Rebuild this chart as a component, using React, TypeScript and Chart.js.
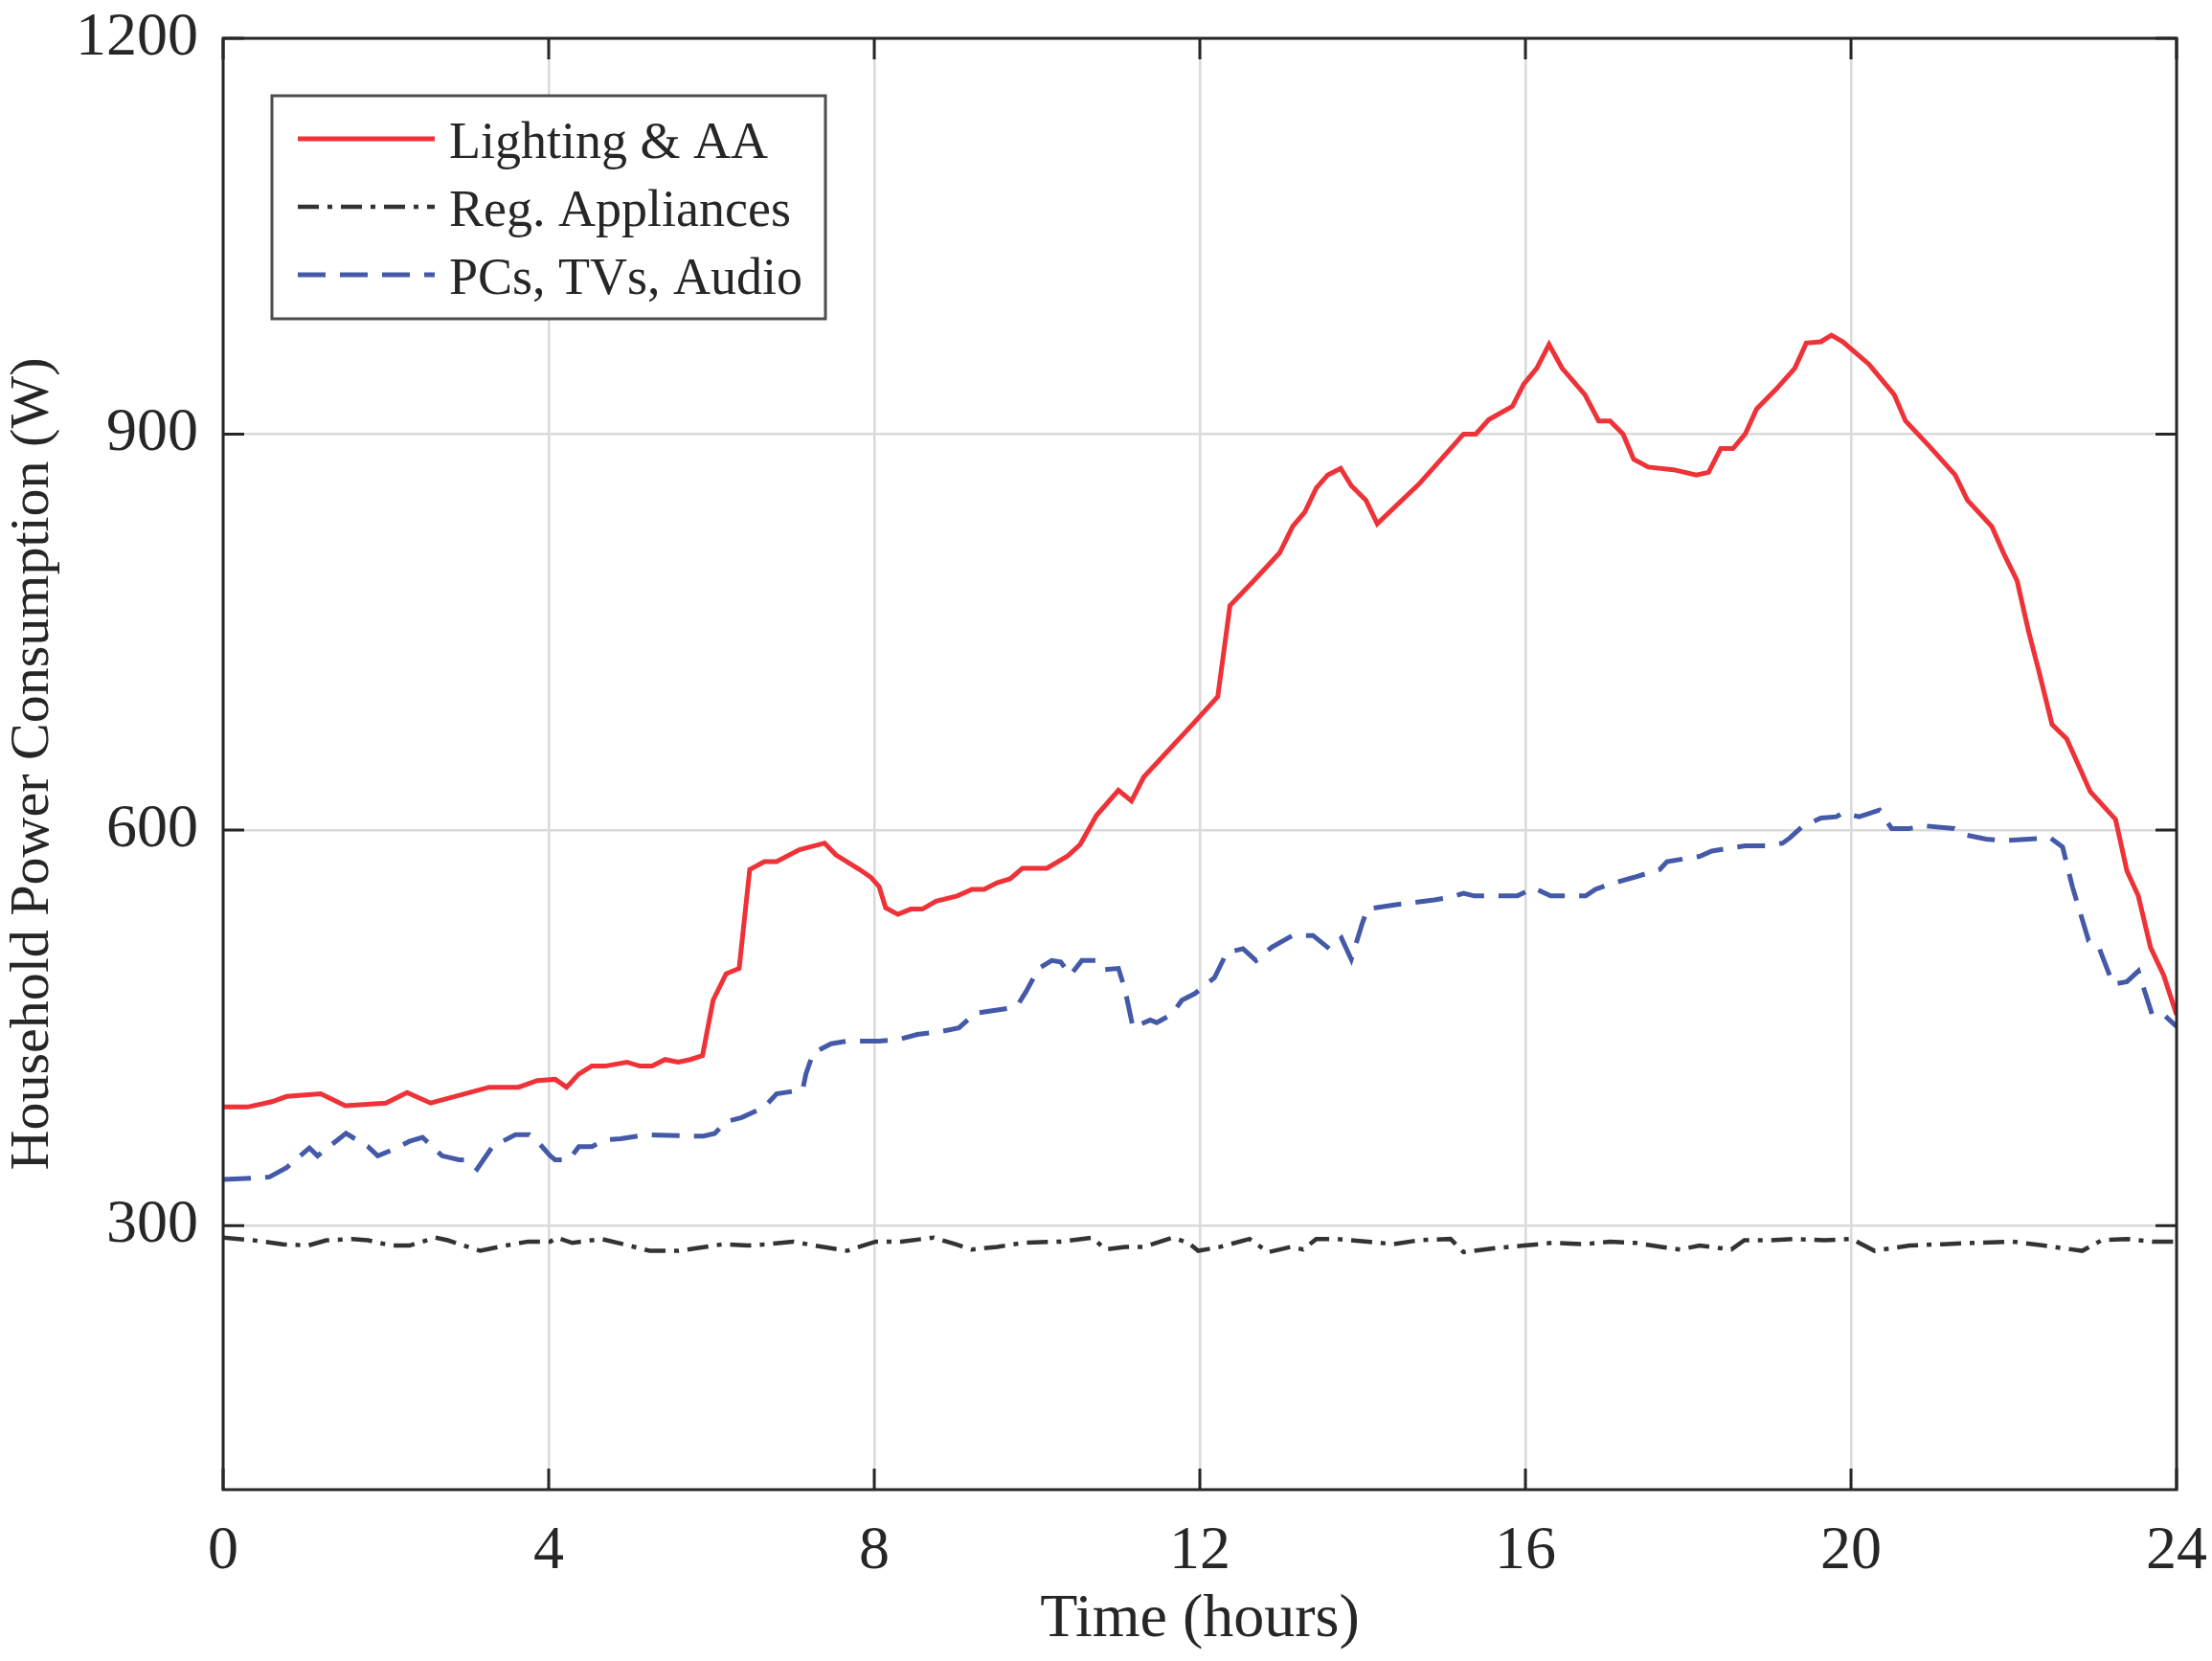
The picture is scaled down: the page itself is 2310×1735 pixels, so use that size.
import React, { useEffect, useRef } from "react"
import { Chart, registerables } from "chart.js"

Chart.register(...registerables)

// hours / watts
const lightingHours = [0, 0.3, 0.6, 0.78, 1.2, 1.5, 2.0, 2.26, 2.55, 3.27, 3.63, 3.86, 4.08, 4.22, 4.37, 4.53, 4.69, 4.96, 5.12, 5.27, 5.43, 5.59, 5.74, 5.89, 6.02, 6.18, 6.34, 6.47, 6.65, 6.8, 7.08, 7.39, 7.53, 7.82, 7.96, 8.06, 8.14, 8.29, 8.45, 8.59, 8.76, 9.02, 9.2, 9.35, 9.51, 9.67, 9.82, 10.12, 10.37, 10.53, 10.73, 11.0, 11.16, 11.31, 11.94, 12.22, 12.37, 12.65, 12.98, 13.14, 13.29, 13.43, 13.57, 13.73, 13.86, 14.04, 14.18, 14.69, 15.24, 15.39, 15.55, 15.84, 15.98, 16.14, 16.29, 16.45, 16.73, 16.9, 17.04, 17.2, 17.33, 17.51, 17.82, 18.1, 18.25, 18.4, 18.55, 18.7, 18.84, 19.08, 19.31, 19.45, 19.63, 19.76, 19.9, 20.22, 20.53, 20.67, 20.96, 21.28, 21.43, 21.73, 21.88, 22.04, 22.18, 22.31, 22.47, 22.65, 22.94, 23.25, 23.39, 23.53, 23.68, 23.84, 24.0]
const lightingWatts = [390, 390, 394, 398, 400, 391, 393, 401, 393, 405, 405, 410, 411, 405, 415, 421, 421, 424, 421, 421, 426, 424, 426, 429, 471, 491, 495, 570, 576, 576, 585, 590, 581, 570, 564, 557, 541, 536, 540, 540, 546, 550, 555, 555, 560, 563, 571, 571, 580, 589, 611, 630, 622, 640, 682, 701, 770, 788, 810, 830, 841, 859, 869, 874, 861, 850, 832, 862, 900, 900, 911, 921, 938, 950, 968, 950, 930, 910, 910, 900, 881, 875, 873, 869, 871, 889, 889, 900, 919, 934, 950, 969, 970, 975, 970, 953, 930, 910, 891, 869, 850, 830, 809, 789, 751, 720, 680, 669, 629, 608, 569, 550, 511, 490, 460]

const regHours = [0, 0.37, 0.73, 1.04, 1.27, 1.59, 1.78, 2.06, 2.29, 2.61, 2.76, 3.16, 3.47, 3.75, 4.02, 4.1, 4.29, 4.65, 4.92, 5.24, 5.59, 5.82, 6.14, 6.45, 6.69, 7.0, 7.27, 7.67, 7.86, 8.02, 8.33, 8.73, 9.0, 9.2, 9.51, 9.82, 10.29, 10.68, 10.84, 11.08, 11.31, 11.67, 11.86, 11.98, 12.25, 12.61, 12.84, 13.12, 13.27, 13.43, 13.67, 14.06, 14.37, 14.69, 15.08, 15.24, 15.63, 15.98, 16.33, 16.73, 17.04, 17.35, 17.67, 17.9, 18.14, 18.53, 18.69, 19.0, 19.31, 19.67, 20.02, 20.1, 20.29, 20.72, 21.12, 21.51, 21.98, 22.37, 22.84, 23.08, 23.39, 23.7, 23.98]
const regWatts = [291, 289, 286, 285, 289, 290, 289, 285, 285, 291, 289, 281, 285, 288, 288, 291, 287, 290, 286, 281, 281, 283, 286, 285, 286, 288, 285, 281, 285, 288, 288, 291, 286, 282, 284, 287, 288, 291, 282, 284, 284, 291, 287, 281, 284, 290, 280, 284, 282, 290, 290, 288, 286, 289, 290, 280, 283, 285, 287, 286, 288, 287, 284, 282, 285, 282, 289, 289, 290, 289, 290, 287, 281, 285, 286, 287, 288, 285, 281, 289, 290, 288, 288]

const pcHours = [0, 0.33, 0.57, 0.78, 1.06, 1.16, 1.51, 1.78, 1.9, 2.06, 2.29, 2.45, 2.69, 2.9, 3.0, 3.12, 3.31, 3.59, 3.76, 3.86, 4.02, 4.08, 4.25, 4.37, 4.53, 4.69, 4.88, 5.2, 5.71, 5.9, 6.04, 6.18, 6.37, 6.65, 6.8, 7.12, 7.16, 7.25, 7.47, 7.67, 8.06, 8.29, 8.53, 8.8, 9.04, 9.24, 9.67, 9.76, 9.86, 10.02, 10.18, 10.29, 10.41, 10.55, 10.73, 10.82, 11.0, 11.08, 11.18, 11.39, 11.47, 11.65, 11.78, 11.94, 12.18, 12.33, 12.53, 12.69, 12.88, 13.14, 13.39, 13.59, 13.74, 13.86, 14.0, 14.06, 14.37, 14.88, 15.08, 15.24, 15.37, 15.9, 16.1, 16.31, 16.74, 16.86, 17.04, 17.33, 17.65, 17.74, 18.14, 18.29, 18.49, 18.7, 18.96, 19.16, 19.25, 19.39, 19.63, 19.82, 19.9, 20.1, 20.35, 20.5, 20.71, 20.92, 21.27, 21.43, 21.66, 21.9, 22.45, 22.6, 22.72, 22.92, 23.04, 23.22, 23.39, 23.53, 23.7, 23.86, 24.0]
const pcWatts = [335, 336, 337, 344, 359, 353, 370, 360, 353, 357, 364, 367, 353, 350, 350, 343, 360, 369, 369, 364, 353, 350, 350, 360, 360, 365, 366, 369, 368, 368, 370, 379, 382, 390, 400, 403, 415, 431, 438, 440, 440, 441, 445, 447, 450, 461, 465, 467, 477, 495, 501, 500, 490, 501, 501, 494, 495, 479, 450, 456, 454, 460, 471, 476, 488, 507, 510, 501, 511, 520, 520, 510, 518, 502, 530, 540, 543, 547, 549, 552, 550, 550, 556, 550, 550, 555, 559, 564, 570, 576, 580, 584, 586, 588, 588, 590, 594, 602, 609, 610, 613, 610, 615, 601, 601, 603, 601, 596, 593, 592, 594, 587, 557, 516, 512, 483, 485, 493, 460, 459, 451]

const xTicks = [0, 4, 8, 12, 16, 20, 24]
const yTicks = [300, 600, 900, 1200]

const FONT = "'Liberation Serif', 'Times New Roman', serif"
const INK = "#262626"

const toPoints = (hours: number[], watts: number[]) => hours.map((h, i) => ({ x: h, y: watts[i] }))

// box round the axes with inward ticks, matlab style
const framePlugin = {
  id: "frame",
  afterDatasetsDraw(chart: any) {
    const { ctx, chartArea, scales } = chart
    const { left, right, top, bottom } = chartArea
    const len = 22
    ctx.save()
    ctx.strokeStyle = INK
    ctx.lineWidth = 3
    ctx.strokeRect(left, top, right - left, bottom - top)
    ctx.beginPath()
    xTicks.forEach(v => {
      const px = scales.x.getPixelForValue(v)
      ctx.moveTo(px, bottom); ctx.lineTo(px, bottom - len)
      ctx.moveTo(px, top); ctx.lineTo(px, top + len)
    })
    yTicks.forEach(v => {
      const py = scales.y.getPixelForValue(v)
      ctx.moveTo(left, py); ctx.lineTo(left + len, py)
      ctx.moveTo(right, py); ctx.lineTo(right - len, py)
    })
    ctx.stroke()
    ctx.restore()
  }
}

const legendPlugin = {
  id: "boxLegend",
  afterDraw(chart: any) {
    const { ctx, chartArea } = chart
    const x0 = chartArea.left + 51
    const y0 = chartArea.top + 60
    const w = 578
    const h = 233
    ctx.save()
    ctx.fillStyle = "#ffffff"
    ctx.fillRect(x0, y0, w, h)
    ctx.strokeStyle = "#4d4d4d"
    ctx.lineWidth = 3
    ctx.strokeRect(x0, y0, w, h)
    ctx.font = `54px ${FONT}`
    ctx.textBaseline = "alphabetic"
    chart.data.datasets.forEach((ds: any, i: number) => {
      const ly = y0 + 45 + i * 71
      ctx.beginPath()
      ctx.setLineDash(ds.borderDash || [])
      ctx.strokeStyle = ds.borderColor
      ctx.lineWidth = ds.borderWidth
      ctx.moveTo(x0 + 27, ly)
      ctx.lineTo(x0 + 170, ly)
      ctx.stroke()
      ctx.setLineDash([])
      ctx.fillStyle = INK
      ctx.fillText(ds.label, x0 + 185, ly + 20)
    })
    ctx.restore()
  }
}

export default function App() {
  const canvasRef = useRef<HTMLCanvasElement>(null)

  useEffect(() => {
    document.body.style.margin = "0"
    if (!canvasRef.current) return
    const chart = new Chart(canvasRef.current, {
      type: "line",
      data: {
        datasets: [
          {
            label: "Lighting & AA",
            data: toPoints(lightingHours, lightingWatts),
            borderColor: "#ee3237",
            borderWidth: 5,
            pointRadius: 0,
            tension: 0,
          },
          {
            label: "Reg. Appliances",
            data: toPoints(regHours, regWatts),
            borderColor: "#333333",
            borderWidth: 4.5,
            borderDash: [22, 9, 5, 9],
            pointRadius: 0,
            tension: 0,
          },
          {
            label: "PCs, TVs, Audio",
            data: toPoints(pcHours, pcWatts),
            borderColor: "#4459a8",
            borderWidth: 5,
            borderDash: [29, 15],
            pointRadius: 0,
            tension: 0,
          },
        ],
      },
      options: {
        animation: false,
        responsive: true,
        maintainAspectRatio: false,
        layout: { padding: { left: 0, right: 37, top: 40, bottom: 0 } },
        plugins: {
          legend: { display: false },
          tooltip: { enabled: false },
        },
        scales: {
          x: {
            type: "linear",
            min: 0,
            max: 24,
            afterBuildTicks: (s: any) => { s.ticks = xTicks.map(v => ({ value: v })) },
            afterFit: (s: any) => {
              s.height = 179
              s.paddingLeft = 0
              s.paddingRight = 0
            },
            grid: { color: "#dadada", lineWidth: 2.5, drawTicks: false },
            border: { display: false },
            ticks: { color: INK, padding: 27, font: { family: FONT, size: 64 } },
            title: {
              display: true,
              text: "Time (hours)",
              color: INK,
              font: { family: FONT, size: 64 },
              padding: { top: 0, bottom: 4 },
            },
          },
          y: {
            min: 100,
            max: 1200,
            afterBuildTicks: (s: any) => { s.ticks = yTicks.map(v => ({ value: v })) },
            afterFit: (s: any) => {
              s.width = 233
              s.paddingTop = 0
              s.paddingBottom = 0
            },
            grid: { color: "#dadada", lineWidth: 2.5, drawTicks: false },
            border: { display: false },
            ticks: {
              color: INK,
              padding: 26,
              font: { family: FONT, size: 64 },
              callback: (v: any) => String(v),
            },
            title: {
              display: true,
              text: "Household Power Consumption (W)",
              color: INK,
              font: { family: FONT, size: 58 },
              padding: { top: 0, bottom: 0 },
            },
          },
        },
      },
      plugins: [framePlugin, legendPlugin],
    })
    return () => chart.destroy()
  }, [])

  return (
    <div style={{ position: "relative", width: 2310, height: 1735 }}>
      <canvas ref={canvasRef} />
    </div>
  )
}
